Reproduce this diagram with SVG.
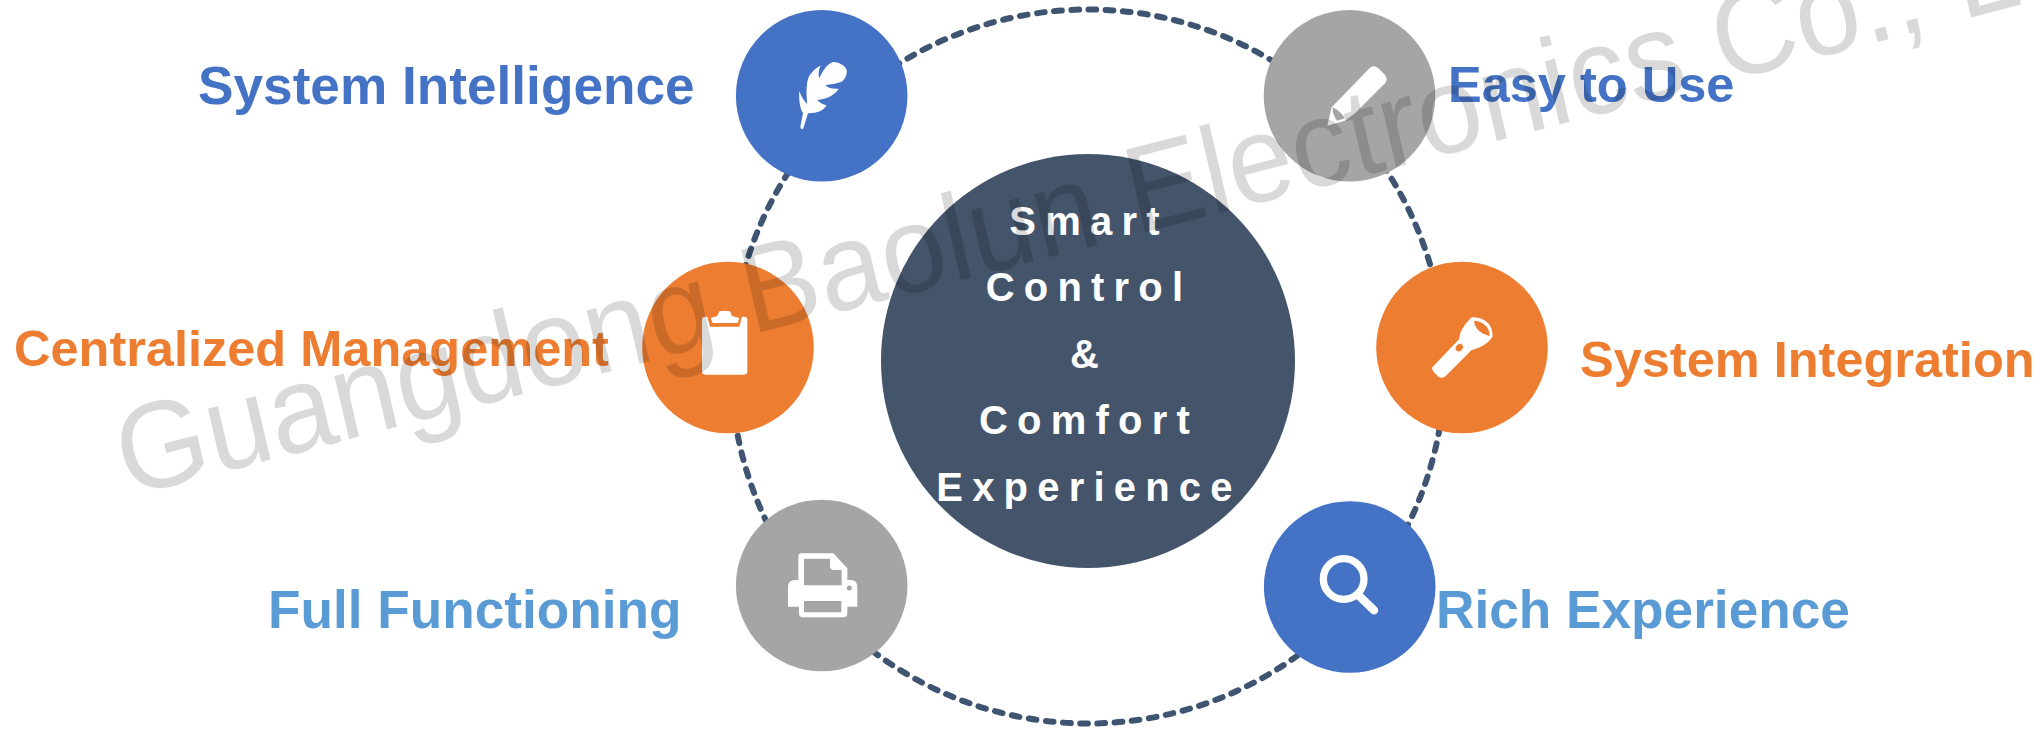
<svg xmlns="http://www.w3.org/2000/svg" width="2044" height="730" viewBox="0 0 2044 730">
<style>
.l{font-family:"Liberation Sans",Arial,sans-serif;font-weight:700}
.a{font-size:53.2px}
.b{font-size:50.5px}
.c{font-family:"Liberation Sans",Arial,sans-serif;font-weight:700;font-size:40px;fill:#fff;text-anchor:middle;letter-spacing:9.2px}
.i{fill:#fff}
</style>
<rect width="2044" height="730" fill="#fff"/>
<g id="connectors"><circle cx="1088" cy="366.5" r="357" fill="none" stroke="#3e5471" stroke-width="6" stroke-linecap="round" stroke-dasharray="7.75 9.504" stroke-dashoffset="-8.5"/></g>
<g id="center"><circle cx="1088" cy="361" r="207" fill="#44546a"/>
<text class="c" x="1089" y="235">Smart</text><text class="c" x="1089" y="301">Control</text><text class="c" x="1089" y="368">&amp;</text><text class="c" x="1089" y="434">Comfort</text><text class="c" x="1089" y="501">Experience</text></g>
<g id="n1"><circle cx="821.7" cy="95.8" r="85.8" fill="#4472c4"/>
<path class="i" transform="translate(720 0) scale(.33333)" d="M241 380L249 340C240 325 236 300 238 273C244 290 252 303 262 312C258 280 258 235 272 222C280 210 292 202 302 196C296 210 294 225 298 235C306 215 322 190 340 186C355 186 375 195 380 210C382 225 375 238 365 245C350 252 330 252 316 256C325 265 340 268 356 266C345 285 320 297 292 300C298 308 308 313 320 316C310 332 295 340 264 340L250 385Q244 392 241 380Z"/>
<text class="l a" x="198" y="104" fill="#4472c4">System Intelligence</text></g>
<g id="n2"><circle cx="1349.5" cy="95.8" r="85.8" fill="#a5a5a5"/>
<g transform="translate(1250 0) scale(.33333)"><path class="i" d="M360 203Q372 193 385 205L405 225Q415 238 405 250L315 340L285 362L232 377L245 322Z"/><path fill="#a5a5a5" d="M248 322Q268 330 285 355L262 362Q246 345 248 322Z"/></g>
<text class="l b" x="1448" y="102" fill="#4472c4">Easy to Use</text></g>
<g id="n3"><circle cx="728" cy="347.5" r="85.8" fill="#ed7d31"/>
<g class="i" transform="translate(630 250) scale(.33333)"><path d="M226 200H232L240 230H328L336 200H342Q352 200 352 210V364Q352 374 342 374H226Q216 374 216 364V210Q216 200 226 200Z"/><path d="M242 204L262 198L268 184Q285 180 300 184L306 198L328 204L323 219H248Z"/></g>
<text class="l b" x="14" y="366" fill="#ed7d31">Centralized Management</text></g>
<g id="n4"><circle cx="1462" cy="347.5" r="85.8" fill="#ed7d31"/>
<g transform="translate(1370 260) scale(.33333)"><path class="i" d="M187 322L267 238L272 215Q285 190 305 172Q335 170 355 190Q370 210 367 232Q345 262 305 270L225 350Q215 356 205 350L190 335Q184 328 187 322Z"/><path fill="#ed7d31" d="M312 182Q335 183 350 200Q362 218 358 228Q335 222 322 208Q312 195 312 182Z"/><ellipse cx="268" cy="263" rx="12" ry="10" transform="rotate(-45 268 263)" fill="#ed7d31"/></g>
<text class="l b" x="1580" y="377" fill="#ed7d31">System Integration</text></g>
<g id="n5"><circle cx="821.7" cy="585.5" r="85.8" fill="#a5a5a5"/>
<g transform="translate(730 500) scale(.33333)"><path class="i" fill-rule="evenodd" d="M215 160H310L352 205V240H362Q382 240 382 262V320H352V340Q352 352 340 352H218Q207 352 207 340V320H174V262Q174 240 195 240H205V170Q205 160 215 160ZM222 176H300V198Q300 210 312 210H335V256H222ZM222 303H334V337H222Z"/><circle cx="358" cy="264" r="7.5" fill="#a5a5a5"/></g>
<text class="l a" x="268" y="628" fill="#5b9bd5">Full Functioning</text></g>
<g id="n6"><circle cx="1349.7" cy="587" r="85.8" fill="#4472c4"/>
<g transform="translate(1260 500) scale(.33333)"><circle cx="251" cy="237" r="61" fill="none" stroke="#fff" stroke-width="22"/><path d="M300 290L342 331" stroke="#fff" stroke-width="25" stroke-linecap="round" fill="none"/></g>
<text class="l a" x="1436" y="628" fill="#5b9bd5">Rich Experience</text></g>
<text transform="translate(127 497) scale(.945 1) rotate(-13.8)" x="0" y="0" font-family="Liberation Sans, Arial, sans-serif" font-size="123.6" fill="#000" fill-opacity=".15">Guangdong Baolun Electronics Co., Ltd</text>
</svg>
